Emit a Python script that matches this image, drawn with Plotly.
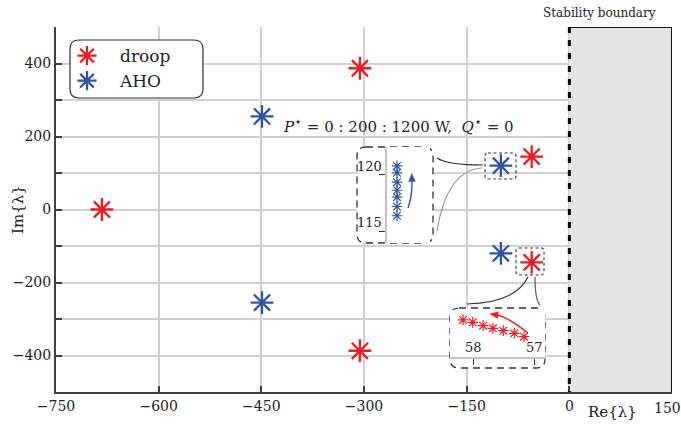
import math
import plotly.graph_objects as go

# ---------------- data ----------------
droop_re = [-683, -306, -306, -55, -55]
droop_im = [0, 387, -387, 145, -145]
aho_re = [-449, -449, -100, -100]
aho_im = [255, -255, 120, -120]

# zoomed sweeps P* = 0:200:1200 W
P_set = [0, 200, 400, 600, 800, 1000, 1200]
aho_zoom_re = [-100, -100, -100, -100, -100, -100, -100]
aho_zoom_im = [116.4, 117.2, 118.0, 118.6, 119.3, 120.1, 120.7]
droop_zoom_re = [-57.18, -57.34, -57.52, -57.69, -57.85, -58.02, -58.18]
droop_zoom_im = [-144.84, -144.48, -144.20, -143.95, -143.67, -143.31, -143.06]

x_ticks = [-750, -600, -450, -300, -150, 0, 150]
x_labels = ["−750", "−600", "−450", "−300", "−150", "0", ""]
y_ticks = [-500, -400, -300, -200, -100, 0, 100, 200, 300, 400, 500]
y_labels = ["", "−400", "", "−200", "", "0", "", "200", "", "400", ""]

RED = "#ec1c24"
BLUE = "#3352a3"
FONT = "DejaVu Serif"

# ---------------- geometry helpers (pixel -> data/paper) ----------------
W, H = 681, 430
L, R, T, B = 56, 672, 27, 392
X0, X1, Y0, Y1 = -750, 150, -500, 500


def dx(px):
    return X0 + (px - L) / (R - L) * (X1 - X0)


def dy(py):
    return Y1 - (py - T) / (B - T) * (Y1 - Y0)


def pxx(px):
    return (px - L) / (R - L)


def pyy(py):
    return (B - py) / (B - T)


def P(px, py):
    return f"{dx(px):.4f},{dy(py):.4f}"


def rrect(x0, y0, x1, y1, r):
    return (f"M {P(x0 + r, y0)} L {P(x1 - r, y0)} Q {P(x1, y0)} {P(x1, y0 + r)} "
            f"L {P(x1, y1 - r)} Q {P(x1, y1)} {P(x1 - r, y1)} "
            f"L {P(x0 + r, y1)} Q {P(x0, y1)} {P(x0, y1 - r)} "
            f"L {P(x0, y0 + r)} Q {P(x0, y0)} {P(x0 + r, y0)} Z")


def curved_arrow(tail, ctrl, tip, color, hl=8.0, hw=3.3, width=1.4):
    ux, uy = tip[0] - ctrl[0], tip[1] - ctrl[1]
    n = math.hypot(ux, uy)
    ux, uy = ux / n, uy / n
    bx, by = tip[0] - hl * ux, tip[1] - hl * uy
    px_, py_ = -uy * hw, ux * hw
    line = dict(type="path", xref="x", yref="y",
                path=f"M {P(*tail)} Q {P(*ctrl)} {P(bx + 2 * ux, by + 2 * uy)}",
                line=dict(color=color, width=width))
    head = dict(type="path", xref="x", yref="y",
                path=f"M {P(*tip)} L {P(bx + px_, by + py_)} L {P(bx - px_, by - py_)} Z",
                fillcolor=color, line=dict(color=color, width=0.5))
    return [line, head]


fig = go.Figure()

# main traces
fig.add_trace(go.Scatter(x=droop_re, y=droop_im, mode="markers", name="droop",
                         marker=dict(symbol="asterisk-open", size=19, color=RED,
                                     line=dict(color=RED, width=2.3))))
fig.add_trace(go.Scatter(x=aho_re, y=aho_im, mode="markers", name="AHO",
                         marker=dict(symbol="asterisk-open", size=19, color=BLUE,
                                     line=dict(color=BLUE, width=2.3))))

# inset traces
fig.add_trace(go.Scatter(x=aho_zoom_re, y=aho_zoom_im, mode="markers", showlegend=False,
                         xaxis="x2", yaxis="y2", customdata=P_set,
                         marker=dict(symbol="asterisk-open", size=9, color=BLUE,
                                     line=dict(color=BLUE, width=1.2))))
fig.add_trace(go.Scatter(x=droop_zoom_re, y=droop_zoom_im, mode="markers", showlegend=False,
                         xaxis="x3", yaxis="y3", customdata=P_set,
                         marker=dict(symbol="asterisk-open", size=9, color=RED,
                                     line=dict(color=RED, width=1.2))))

shapes = []
# unstable region
shapes.append(dict(type="rect", xref="x", yref="y", x0=0, x1=150, y0=-500, y1=500,
                   fillcolor="#e3e5e5", line=dict(width=0), layer="between"))
shapes.append(dict(type="line", xref="x", yref="y", x0=0, x1=150, y0=500, y1=500,
                   line=dict(color="#111", width=2)))
shapes.append(dict(type="line", xref="x", yref="y", x0=150, x1=150, y0=-500, y1=500,
                   line=dict(color="#111", width=2)))
shapes.append(dict(type="line", xref="x", yref="y", x0=0, x1=0, y0=500, y1=-500,
                   line=dict(color="#000", width=3, dash="6px,7px")))

# legend box
shapes.append(dict(type="path", xref="x", yref="y", path=rrect(70, 40, 203, 98, 9),
                   fillcolor="white", line=dict(color="#333", width=1.2), layer="between"))
# inset boxes
shapes.append(dict(type="path", xref="x", yref="y", path=rrect(357, 147, 433, 243, 9),
                   fillcolor="white", line=dict(color="#333", width=1.3, dash="7px,5px"),
                   layer="between"))
shapes.append(dict(type="path", xref="x", yref="y", path=rrect(450, 308, 545, 368, 9),
                   fillcolor="white", line=dict(color="#333", width=1.3, dash="7px,5px"),
                   layer="between"))
# small selection boxes
shapes.append(dict(type="path", xref="x", yref="y", path=rrect(485, 153, 516, 179, 3),
                   line=dict(color="#333", width=1.1, dash="3px,2.5px")))
shapes.append(dict(type="path", xref="x", yref="y", path=rrect(516, 248, 544, 275, 3),
                   line=dict(color="#333", width=1.1, dash="3px,2.5px")))
# connectors
shapes.append(dict(type="path", xref="x", yref="y",
                   path=f"M {P(437, 158)} Q {P(447, 165)} {P(483, 165)}",
                   line=dict(color="#333", width=1.2)))
shapes.append(dict(type="path", xref="x", yref="y",
                   path=f"M {P(437, 231)} Q {P(447, 170)} {P(482, 168)}",
                   line=dict(color="#999", width=1.2)))
shapes.append(dict(type="path", xref="x", yref="y",
                   path=f"M {P(467, 304)} Q {P(515, 303)} {P(528, 277)}",
                   line=dict(color="#333", width=1.2)))
shapes.append(dict(type="path", xref="x", yref="y",
                   path=f"M {P(535, 277)} Q {P(535, 300)} {P(540, 305)}",
                   line=dict(color="#555", width=1.2)))
# sweep-direction arrows
shapes += curved_arrow((408, 208), (412.5, 195), (411.7, 173.5), BLUE)
shapes += curved_arrow((528, 333), (506, 316), (490, 314), RED)

STAR = "<sup><span style='font-size:13px'>⋆</span></sup>"
TXT = dict(family=FONT, color="#222")


def label(text, px, py, size, **kw):
    d = dict(text=text, x=pxx(px), y=pyy(py), xref="paper", yref="paper",
             xanchor="center", yanchor="middle", showarrow=False,
             font=dict(size=size, **TXT))
    d.update(kw)
    return d


annotations = [
    label("Stability boundary", 599, 13, 12),
    label(f"<i>P</i>{STAR} = 0 : 200 : 1200 W,  <i>Q</i>{STAR} = 0", 399, 125, 15),
    label("Im{λ}", 18, 210, 15, textangle=-90),
    label("Re{λ}", 612, 412, 15),
    label("150", 667, 408, 14),
    # inset tick labels
    dict(text="120", x=pxx(384), y=120, xref="paper", yref="y2", xanchor="right",
         yanchor="middle", yshift=8, showarrow=False, font=dict(size=13, **TXT)),
    dict(text="115", x=pxx(384), y=115, xref="paper", yref="y2", xanchor="right",
         yanchor="middle", yshift=9, showarrow=False, font=dict(size=13, **TXT)),
    dict(text="58", x=-58, y=pyy(347), xref="x3", yref="paper", xanchor="center",
         yanchor="middle", showarrow=False, font=dict(size=13, **TXT)),
    dict(text="57", x=-57, y=pyy(347), xref="x3", yref="paper", xanchor="center",
         yanchor="middle", showarrow=False, font=dict(size=13, **TXT)),
]

axis_common = dict(showline=True, linecolor="#404040", linewidth=2, mirror=False,
                   showgrid=True, gridcolor="#d0d0d0", gridwidth=1.5, zeroline=False,
                   ticks="inside", ticklen=6, tickwidth=1.5, tickcolor="#404040",
                   tickfont=dict(size=14, **TXT))

fig.update_layout(
    width=W, height=H,
    margin=dict(l=L, r=W - R, t=T, b=H - B),
    paper_bgcolor="white", plot_bgcolor="white",
    xaxis=dict(range=[X0, X1], tickvals=x_ticks, ticktext=x_labels, **axis_common),
    yaxis=dict(range=[Y0, Y1], tickvals=y_ticks, ticktext=y_labels, **axis_common),
    # blue inset
    xaxis2=dict(domain=[pxx(387), pxx(430)], range=[-100.233, -99.233], anchor="y2",
                visible=False, fixedrange=True),
    yaxis2=dict(domain=[pyy(243), pyy(147)], range=[114.05, 122.33], anchor="x2",
                showline=True, linecolor="#c4c4c4", linewidth=1.5, showgrid=False,
                zeroline=False, ticks="outside", ticklen=6, tickwidth=1.2,
                tickcolor="#333", tickvals=[115, 120], showticklabels=False),
    # red inset
    xaxis3=dict(domain=[pxx(450), pxx(545)], range=[-58.393, -56.836], anchor="y3",
                showline=True, linecolor="#c4c4c4", linewidth=1.5, showgrid=False,
                zeroline=False, ticks="outside", ticklen=6, tickwidth=1.2,
                tickcolor="#333", tickvals=[-58, -57], showticklabels=False),
    yaxis3=dict(domain=[pyy(357), pyy(310)], range=[-147, -142], anchor="x3",
                visible=False),
    shapes=shapes,
    annotations=annotations,
    showlegend=True,
    legend=dict(x=pxx(54), y=pyy(38), xanchor="left", yanchor="top",
                bgcolor="rgba(0,0,0,0)", borderwidth=0,
                font=dict(size=17, **TXT),
                itemwidth=56, tracegroupgap=0),
)

fig.write_html("out.html", config={"displayModeBar": False},
               post_script="document.body.style.margin='0';document.body.style.overflow='hidden';")
